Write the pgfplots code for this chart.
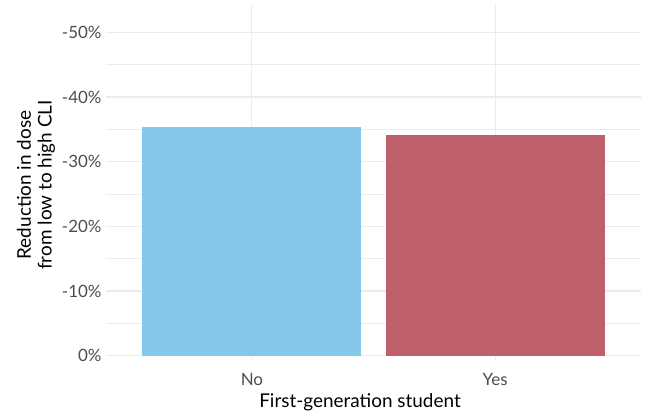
\documentclass[border=0pt]{standalone}
\usepackage{fontspec}
\setmainfont{Lato}
\usepackage{pgfplots}
\pgfplotsset{compat=1.18}
\definecolor{barblue}{HTML}{85C8EC}
\definecolor{barred}{HTML}{BE5F6A}
\definecolor{gridc}{HTML}{EBEBEB}
\definecolor{tickc}{HTML}{4D4D4D}
\begin{document}
\begin{tikzpicture}[x=1bp,y=1bp]
\begin{axis}[
 at={(106bp,60.3bp)}, anchor=south west,
 scale only axis, width=535bp, height=345.7bp,
 xmin=-0.6, xmax=1.6, ymin=-53.45, ymax=0, y dir=reverse,
 axis line style={draw=none},
 xtick={0,1}, xticklabels={No,Yes},
 ytick={0,-10,-20,-30,-40,-50},
 yticklabels={0\%,-10\%,-20\%,-30\%,-40\%,-50\%},
 minor ytick={-5,-15,-25,-35,-45},
 grid=both,
 major grid style={gridc, line width=1.1bp},
 minor grid style={gridc, line width=0.6bp},
 tick align=outside,
 major tick length=5bp, minor tick length=0pt,
 xtick style={gridc, line width=1.1bp},
 ytick style={draw=none},
 ticklabel style={font=\fontsize{17}{19}\selectfont, text=tickc},
 yticklabel style={xshift=4bp},
 xticklabel style={yshift=-9bp},
 clip=false,
]
\addplot[ybar, bar width=0.9, bar shift=0pt, fill=barblue, draw=none] coordinates {(0,-35.3)};
\addplot[ybar, bar width=0.9, bar shift=0pt, fill=barred, draw=none] coordinates {(1,-34.2)};
\end{axis}
\node[font=\fontsize{19}{21}\selectfont] at (360bp,14bp) {First-generation student};
\node[font=\fontsize{19}{21}\selectfont, rotate=90, align=center] at (36bp,231bp) {Reduction in dose\\from low to high CLI};
\pgfresetboundingbox
\path (0,0) rectangle (652bp,416bp);
\end{tikzpicture}
\end{document}
